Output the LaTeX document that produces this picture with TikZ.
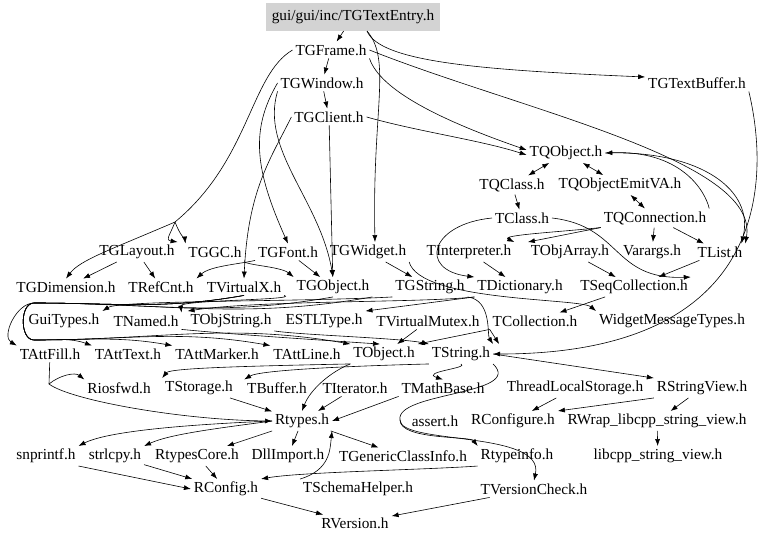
\documentclass[tikz,border=0pt]{standalone}
\usepackage{fontspec}
\setmainfont{Liberation Serif}
\usetikzlibrary{arrows.meta}
\definecolor{rootgray}{HTML}{D3D3D3}

\begin{document}
\begin{tikzpicture}[x=1pt, y=-1pt,
    hdr/.style={font=\fontsize{15.3}{17}\selectfont, inner sep=1.5pt, outer sep=1.5pt},
    dep/.style={-{Latex[length=7pt,width=5pt]}, line width=0.6pt},
    cyc/.style={{Latex[length=7pt,width=5pt]}-{Latex[length=7pt,width=5pt]}, line width=0.6pt}]
    \useasboundingbox (0,0) rectangle (768,541);

    % headers, row by row
    \node [hdr, fill=rootgray, minimum width=174pt, minimum height=28pt, outer sep=0pt] (entry) at (353,17) {gui/gui/inc/TGTextEntry.h};
    \node [hdr] (frame) at (331,50) {TGFrame.h};
    \node [hdr] (window) at (322,83) {TGWindow.h};
    \node [hdr] (tbuf) at (697,83) {TGTextBuffer.h};
    \node [hdr] (client) at (329,117) {TGClient.h};
    \node [hdr] (qobj) at (566,153) {TQObject.h};
    \node [hdr] (qclass) at (512,185) {TQClass.h};
    \node [hdr] (qemit) at (620,185) {TQObjectEmitVA.h};
    \node [hdr] (class) at (522,218) {TClass.h};
    \node [hdr] (qconn) at (655,218) {TQConnection.h};

    \node [hdr] (layout) at (137,252) {TGLayout.h};
    \node [hdr] (gc) at (215,252) {TGGC.h};
    \node [hdr] (font) at (288,252) {TGFont.h};
    \node [hdr] (widget) at (368,252) {TGWidget.h};
    \node [hdr] (interp) at (469,252) {TInterpreter.h};
    \node [hdr] (objarr) at (570,252) {TObjArray.h};
    \node [hdr] (varargs) at (652,252) {Varargs.h};
    \node [hdr] (list) at (720,252) {TList.h};

    \node [hdr] (dim) at (66,287) {TGDimension.h};
    \node [hdr] (refcnt) at (161,287) {TRefCnt.h};
    \node [hdr] (vx) at (244,287) {TVirtualX.h};
    \node [hdr] (gobj) at (333,287) {TGObject.h};
    \node [hdr] (gstr) at (430,287) {TGString.h};
    \node [hdr] (dict) at (520,287) {TDictionary.h};
    \node [hdr] (seqcol) at (634,287) {TSeqCollection.h};

    \node [hdr] (guitypes) at (64,321) {GuiTypes.h};
    \node [hdr] (named) at (146,321) {TNamed.h};
    \node [hdr] (objstr) at (231,321) {TObjString.h};
    \node [hdr] (estl) at (324,321) {ESTLType.h};
    \node [hdr] (vmutex) at (428,321) {TVirtualMutex.h};
    \node [hdr] (coll) at (535,321) {TCollection.h};
    \node [hdr] (wmt) at (672,321) {WidgetMessageTypes.h};

    \node [hdr] (attfill) at (50,354) {TAttFill.h};
    \node [hdr] (atttext) at (128,354) {TAttText.h};
    \node [hdr] (attmarker) at (217,354) {TAttMarker.h};
    \node [hdr] (attline) at (307,354) {TAttLine.h};
    \node [hdr] (tobj) at (384,354) {TObject.h};
    \node [hdr] (tstr) at (461,354) {TString.h};

    \node [hdr] (riosfwd) at (119,388) {Riosfwd.h};
    \node [hdr] (storage) at (199,388) {TStorage.h};
    \node [hdr] (buffer) at (277,388) {TBuffer.h};
    \node [hdr] (iter) at (355,388) {TIterator.h};
    \node [hdr] (mathbase) at (443,388) {TMathBase.h};
    \node [hdr] (tls) at (575,388) {ThreadLocalStorage.h};
    \node [hdr] (strview) at (702,388) {RStringView.h};

    \node [hdr] (rtypes) at (302,421) {Rtypes.h};
    \node [hdr] (assert) at (435,421) {assert.h};
    \node [hdr] (rconfigure) at (513,421) {RConfigure.h};
    \node [hdr] (rwrap) at (657,421) {RWrap\_libcpp\_string\_view.h};

    \node [hdr] (snprintf) at (46,456) {snprintf.h};
    \node [hdr] (strlcpy) at (115,456) {strlcpy.h};
    \node [hdr] (rtcore) at (197,456) {RtypesCore.h};
    \node [hdr] (dllimp) at (288,456) {DllImport.h};
    \node [hdr] (gci) at (403,456) {TGenericClassInfo.h};
    \node [hdr] (rtinfo) at (517,456) {Rtypeinfo.h};
    \node [hdr] (libcpp) at (658,456) {libcpp\_string\_view.h};

    \node [hdr] (rconfig) at (226,489) {RConfig.h};
    \node [hdr] (schema) at (358,489) {TSchemaHelper.h};
    \node [hdr] (vcheck) at (534,489) {TVersionCheck.h};
    \node [hdr] (rversion) at (355,523) {RVersion.h};

    % bends on the left side
    \coordinate (lup) at (34,303);
    \coordinate (ldn) at (34,340);
    \coordinate (fork) at (49,384);
    \coordinate (gcfork) at (175,222);
    \coordinate (loopr) at (400,420);

    % gui part
    \draw[dep] (entry) -- (frame);
    \draw[dep] ([xshift=14pt]entry.south) .. controls (392,60) and (372,110) .. ([xshift=7pt]widget.north);
    \draw[dep] ([xshift=14pt]entry.south) .. controls (380,62) and (480,70) .. ([yshift=6pt]tbuf.west);
    \draw[dep] (frame) -- (window);
    \draw[dep] (window) -- (client);
    \draw[dep] (frame.south east) .. controls (380,90) and (440,120) .. ([yshift=3pt]qobj.west);
    \draw[dep] (client.east) .. controls (420,132) and (480,140) .. ([yshift=-2pt]qobj.west);
    \draw[dep] (frame.east) .. controls (520,110) and (760,160) .. (list.north east);
    \draw[dep] (frame.west) .. controls (250,75) and (250,160) .. (gcfork) .. controls (110,250) and (80,260) .. (dim.north);
    \draw[dep] (gcfork) .. controls (170,235) and (165,240) .. (layout.north east);
    \draw[dep] (gcfork) .. controls (180,235) and (185,240) .. (gc.north west);
    \draw[dep] (window.west) .. controls (250,130) and (255,170) .. (font.north);
    \draw[dep] (client.west) .. controls (270,160) and (248,190) .. (vx.north);
    \draw[dep] (window.south west) .. controls (260,150) and (320,200) .. (gobj.north);
    \draw[dep] (client) -- (gobj);
    \draw[dep] (tbuf.south east) .. controls (770,180) and (770,354) .. (tstr.east);

    % TQObject part
    \draw[cyc] (qobj) -- (qclass);
    \draw[cyc] (qobj) -- (qemit);
    \draw[cyc] (qemit) -- (qconn);
    \draw[dep] (qconn.north east) .. controls (705,190) and (680,150) .. (qobj.east);
    \draw[dep] (qobj.east) .. controls (700,150) and (755,190) .. ([xshift=-4pt]list.north east);
    \draw[dep] (qclass) -- (class);
    \draw[dep] (qconn) -- (varargs);
    \draw[dep] (qconn) -- (list);
    \draw[dep] (qconn.south west) .. controls (560,232) and (500,235) .. (interp.north east);
    \draw[dep] (qconn.south west) -- (objarr.north west);
    \draw[dep] (class.west) .. controls (430,224) and (418,270) .. (dict.north west);
    \draw[dep] (class.east) .. controls (622,226) and (612,280) .. (seqcol.north east);
    \draw[dep] (interp) -- (dict);
    \draw[dep] (objarr) -- (seqcol);
    \draw[dep] (list) -- (seqcol);

    % widget and object rows
    \draw[dep] (layout) -- (dim);
    \draw[dep] (layout) -- (refcnt);
    \draw[dep] (gc.south east) .. controls (240,265) and (280,266) .. (gobj.north west);
    \draw[dep] (font.south west) .. controls (240,264) and (210,266) .. (refcnt.north east);
    \draw[dep] (font) -- (gobj);
    \draw[dep] (widget) -- (gstr);
    \draw[dep] (widget.south east) .. controls (420,302) and (580,298) .. (wmt.north west);
    \draw[dep] (vx.south east) .. controls (300,300) and (180,300) .. (named.north east);
    \draw[dep] (vx.south) to[out=190,in=0] (lup) to[out=180,in=180] (ldn) to[out=0,in=160] (atttext.north west);
    \draw[dep] (vx.south) to[out=190,in=0] (lup) to[out=180,in=180] (ldn) to[out=0,in=170] (attmarker.north west);
    \draw[dep] (vx.south) to[out=190,in=0] (lup) to[out=180,in=180] (ldn) to[out=0,in=170] (attline.north west);
    \draw[dep] (gobj.south east) to[out=190,in=0] (lup) to[out=180,in=180] (ldn) to[out=0,in=170] (tobj.north west);
    \draw[dep] (gobj.south) to[out=190,in=0] (lup) to[out=180,in=150] (attfill.north west);
    \draw[dep] (gstr.south west) .. controls (300,302) and (120,300) .. (guitypes.north east);
    \draw[dep] (gstr.south east) .. controls (492,300) and (487,335) .. (tstr.north east);
    \draw[dep] (dict.south west) .. controls (420,303) and (260,300) .. (objstr.north west);
    \draw[dep] (dict.south west) -- (estl.north east);
    \draw[dep] (seqcol) -- (coll);
    \draw[dep] (coll.south west) -- (tobj.north east);
    \draw[dep] (coll.south west) -- ([xshift=6pt]tstr.north east);
    \draw[dep] (vmutex) -- (tobj);
    \draw[dep] (named.south east) .. controls (240,335) and (320,340) .. ([xshift=-4pt]tobj.north);
    \draw[dep] (objstr.south east) .. controls (300,335) and (400,338) .. (tstr.north west);

    % core part
    \draw[dep] (attfill) -- (fork) .. controls (70,400) and (180,420) .. (rtypes.west);
    \draw[dep] (fork) .. controls (60,375) and (75,372) .. (riosfwd.north west);
    \draw[dep] (tobj.south west) .. controls (330,372) and (310,390) .. (rtypes.north);
    \draw[dep] (tobj.south west) .. controls (250,366) and (170,368) .. (storage.north west);
    \draw[dep] (tstr.south west) .. controls (350,366) and (260,370) .. (buffer.north west);
    \draw[dep] (tstr.south) .. controls (470,368) and (420,372) .. (mathbase.north);
    \draw[dep] (tstr.east) -- (strview.north west);
    \draw[dep] (storage) -- (rtypes);
    \draw[dep] (iter) -- (rtypes);
    \draw[dep] (mathbase.south west) -- (rtypes.east);
    \draw[dep] (tls) -- (rconfigure);
    \draw[dep] (strview.south west) -- (rconfigure.north east);
    \draw[dep] (strview) -- (rwrap);
    \draw[dep] (rwrap) -- (libcpp);
    \draw[dep] (tstr.south east) .. controls (525,395) and (395,392) .. (loopr) .. controls (400,445) and (545,430) .. (vcheck.north);
    \draw[dep] (loopr) .. controls (400,440) and (470,436) .. (rtinfo.north west);
    \draw[dep] (rtypes.west) .. controls (200,424) and (110,430) .. (snprintf.north east);
    \draw[dep] (rtypes.west) .. controls (220,428) and (170,434) .. (strlcpy.north east);
    \draw[dep] (rtypes) -- (rtcore);
    \draw[dep] (rtypes) -- (dllimp);
    \draw[dep] (rtypes) -- (gci);
    \draw[dep] (schema.north west) .. controls (330,470) and (330,450) .. (rtypes.south east);
    \draw[dep] (snprintf.south east) -- (rconfig.west);
    \draw[dep] (strlcpy) -- (rconfig);
    \draw[dep] (rtcore) -- (rconfig);
    \draw[dep] (rtinfo.south west) .. controls (420,470) and (300,472) .. (rconfig.north east);
    \draw[dep] (rconfig) -- (rversion);
    \draw[dep] (vcheck) -- (rversion);
\end{tikzpicture}
\end{document}
